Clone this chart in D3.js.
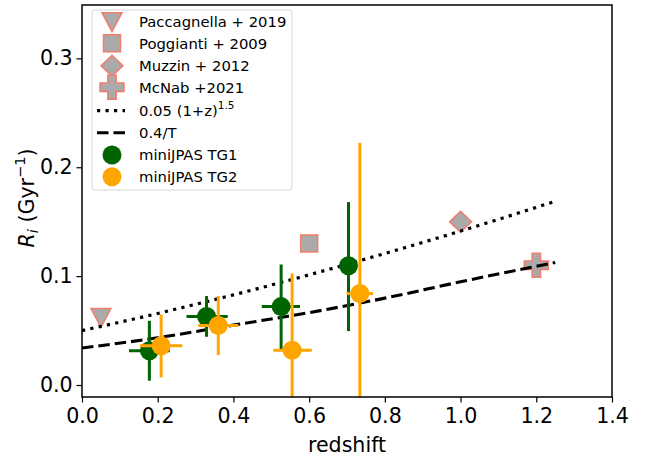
<!DOCTYPE html>
<html><head><meta charset="utf-8">
<script src="https://cdn.jsdelivr.net/npm/d3@7"></script>
<style>body{margin:0;background:#fff}svg{display:block}text{font-family:"DejaVu Sans",sans-serif}</style>
</head><body><svg id="c" width="651" height="456"></svg>
<script>
// ---- data ----
const tg1Z    = [0.178, 0.329, 0.526, 0.704];
const tg1R    = [0.0315, 0.063, 0.072, 0.1095];
const tg1Rlo  = [0.004, 0.0443, 0.0327, 0.0495];
const tg1Rhi  = [0.059, 0.0817, 0.1107, 0.168];
const tg1Zlo  = [0.124, 0.276, 0.475, 0.704];
const tg1Zhi  = [0.232, 0.385, 0.576, 0.704];

const tg2Z    = [0.209, 0.360, 0.555, 0.734];
const tg2R    = [0.036, 0.0547, 0.032, 0.084];
const tg2Rlo  = [0.007, 0.0275, -0.05, -0.05];
const tg2Rhi  = [0.0648, 0.0817, 0.1025, 0.2223];
const tg2Zlo  = [0.153, 0.307, 0.505, 0.699];
const tg2Zhi  = [0.265, 0.413, 0.607, 0.769];

const paccZ = [0.05], paccR = [0.062];
const poggZ = [0.6],  poggR = [0.13];
const muzzZ = [1.0],  muzzR = [0.15];
const mcnabZ = [1.2], mcnabR = [0.11];

const dotZ = [0, 0.2, 0.4, 0.6, 0.8, 1.0, 1.25];
const dotR = [0.05, 0.0657, 0.0828, 0.1012, 0.1208, 0.1414, 0.1687];
const dashZ = [0, 0.2, 0.4, 0.6, 0.8, 1.0, 1.25];
const dashR = [0.034, 0.0434, 0.055, 0.0665, 0.0798, 0.0948, 0.1126];

const xTicks = [0.0, 0.2, 0.4, 0.6, 0.8, 1.0, 1.2, 1.4];
const yTicks = [0.0, 0.1, 0.2, 0.3];

const legendLabels = ["Paccagnella + 2019","Poggianti + 2009","Muzzin + 2012","McNab +2021","0.05 (1+z)","0.4/T","miniJPAS TG1","miniJPAS TG2"];

// ---- layout ----
const L = 82, R = 612, T = 5, B = 397;
const svg = d3.select("#c");
const x = d3.scaleLinear().domain([0, 1.4]).range([L, R]);
const y = d3.scaleLinear().domain([-0.011, 0.349]).range([B, T]);
const gray = "#aaaaaa", edge = "#f47c6c", green = "#006400", orange = "#ffa500";
const FS = 20.6, LFS = 14.8;

svg.append("defs").append("clipPath").attr("id","clip")
  .append("rect").attr("x",L).attr("y",T).attr("width",R-L).attr("height",B-T);
const plot = svg.append("g").attr("clip-path","url(#clip)");

// marker shapes
function triDown(g, cx, cy){ g.append("path").attr("d",`M${cx-10},${cy-9}L${cx+10},${cy-9}L${cx},${cy+10}Z`).attr("fill",gray).attr("stroke",edge).attr("stroke-width",1.5); }
function square(g, cx, cy){ g.append("rect").attr("x",cx-8.5).attr("y",cy-8.5).attr("width",17).attr("height",17).attr("fill",gray).attr("stroke",edge).attr("stroke-width",1.5); }
function diamond(g, cx, cy){ g.append("path").attr("d",`M${cx},${cy-10.5}L${cx+11},${cy}L${cx},${cy+10.5}L${cx-11},${cy}Z`).attr("fill",gray).attr("stroke",edge).attr("stroke-width",1.5); }
function plus(g, cx, cy){ const a=12,b=4.2; g.append("path").attr("d",`M${cx-b},${cy-a}H${cx+b}V${cy-b}H${cx+a}V${cy+b}H${cx+b}V${cy+a}H${cx-b}V${cy+b}H${cx-a}V${cy-b}H${cx-b}Z`).attr("fill",gray).attr("stroke",edge).attr("stroke-width",1.5); }

paccZ.forEach((z,i)=>triDown(plot, x(z), y(paccR[i])));
poggZ.forEach((z,i)=>square(plot, x(z), y(poggR[i])));
muzzZ.forEach((z,i)=>diamond(plot, x(z), y(muzzR[i])));
mcnabZ.forEach((z,i)=>plus(plot, x(z), y(mcnabR[i])));

// model lines
const line = d3.line().curve(d3.curveMonotoneX);
plot.append("path").attr("d", line(dotZ.map((z,i)=>[x(z), y(dotR[i])])))
  .attr("fill","none").attr("stroke","#000").attr("stroke-width",3.2).attr("stroke-dasharray","3.2,5.3");
plot.append("path").attr("d", line(dashZ.map((z,i)=>[x(z), y(dashR[i])])))
  .attr("fill","none").attr("stroke","#000").attr("stroke-width",3.1).attr("stroke-dasharray","11.5,5");

// miniJPAS points with error bars
function series(zs, rs, rlo, rhi, zlo, zhi, col){
  const g = plot.append("g");
  zs.forEach((z,i)=>{
    g.append("line").attr("x1",x(z)).attr("x2",x(z)).attr("y1",y(rlo[i])).attr("y2",y(rhi[i])).attr("stroke",col).attr("stroke-width",3);
    g.append("line").attr("x1",x(zlo[i])).attr("x2",x(zhi[i])).attr("y1",y(rs[i])).attr("y2",y(rs[i])).attr("stroke",col).attr("stroke-width",3);
  });
  zs.forEach((z,i)=>{
    g.append("circle").attr("cx",x(z)).attr("cy",y(rs[i])).attr("r",9.5).attr("fill",col);
  });
}
series(tg1Z, tg1R, tg1Rlo, tg1Rhi, tg1Zlo, tg1Zhi, green);
series(tg2Z, tg2R, tg2Rlo, tg2Rhi, tg2Zlo, tg2Zhi, orange);

// axes
const xa = svg.append("g").attr("transform",`translate(0,${B})`)
  .call(d3.axisBottom(x).tickValues(xTicks).tickFormat(d3.format(".1f")).tickSize(5.5).tickPadding(5.5));
const ya = svg.append("g").attr("transform",`translate(${L},0)`)
  .call(d3.axisLeft(y).tickValues(yTicks).tickFormat(d3.format(".1f")).tickSize(5.5).tickPadding(3.8));
[xa, ya].forEach(a=>{
  a.select(".domain").remove();
  a.selectAll(".tick line").attr("stroke","#000").attr("stroke-width",1.2);
  a.selectAll(".tick text").attr("font-size",FS).attr("fill","#000").attr("font-family","DejaVu Sans");
});
svg.append("rect").attr("x",L).attr("y",T).attr("width",R-L).attr("height",B-T)
  .attr("fill","none").attr("stroke","#000").attr("stroke-width",1.5);

svg.append("text").attr("x",(L+R)/2).attr("y",452).attr("text-anchor","middle").attr("font-size",FS).text("redshift");
const yl = svg.append("text").attr("transform",`translate(34,198) rotate(-90)`).attr("text-anchor","middle").attr("font-size",FS);
yl.append("tspan").attr("font-style","italic").text("R");
yl.append("tspan").attr("font-style","italic").attr("font-size",14.5).attr("dy",4).text("i");
yl.append("tspan").attr("dy",-4).text(" (Gyr");
yl.append("tspan").attr("font-size",14.5).attr("dy",-9).text("−1");
yl.append("tspan").attr("dy",9).text(")");

// legend
const lg = svg.append("g");
lg.append("rect").attr("x",92).attr("y",10).attr("width",200).attr("height",180).attr("rx",3)
  .attr("fill","#fff").attr("fill-opacity",0.8).attr("stroke","#d6d6d6").attr("stroke-width",1);
const rowY = [21.7, 43.3, 65.7, 87.3, 110.7, 132.7, 155, 176.7];
const mx = 112, tx = 139;
triDown(lg, mx, rowY[0]); square(lg, mx, rowY[1]); diamond(lg, mx, rowY[2]); plus(lg, mx, rowY[3]);
lg.append("line").attr("x1",97).attr("x2",125).attr("y1",rowY[4]).attr("y2",rowY[4]).attr("stroke","#000").attr("stroke-width",3.2).attr("stroke-dasharray","3.2,5.3");
lg.append("line").attr("x1",97).attr("x2",125).attr("y1",rowY[5]).attr("y2",rowY[5]).attr("stroke","#000").attr("stroke-width",3.1).attr("stroke-dasharray","11.5,5");
lg.append("circle").attr("cx",mx).attr("cy",rowY[6]).attr("r",9.5).attr("fill",green);
lg.append("circle").attr("cx",mx).attr("cy",rowY[7]).attr("r",9.5).attr("fill",orange);
legendLabels.forEach((t,i)=>{
  const te = lg.append("text").attr("x",tx).attr("y",rowY[i]+5.4).attr("font-size",LFS).attr("fill","#000").text(t);
  if(i===4) te.append("tspan").attr("font-size",10.4).attr("dy",-7).text("1.5");
});
</script></body></html>
